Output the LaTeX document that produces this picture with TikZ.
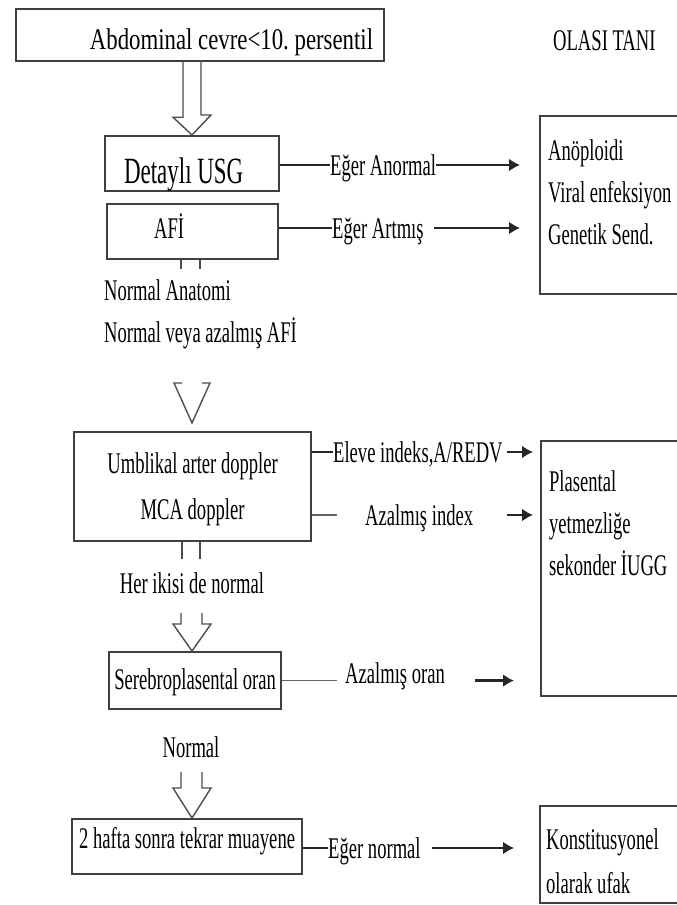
\documentclass[tikz,border=0pt]{standalone}
\usepackage{fontspec}
\usepackage{tikz}
\usetikzlibrary{arrows.meta,calc}

\newfontfamily\tnorm[FakeStretch=0.62]{Liberation Serif}
\newfontfamily\twide[FakeStretch=0.76]{Liberation Serif}

\begin{document}
\begin{tikzpicture}[
      x=1pt, y=-1pt,
      box/.style={draw=black!75, line width=2.2pt, inner ysep=0pt, anchor=north west,
        font=\tnorm\fontsize{30}{42}\selectfont,
        execute at begin node={\spaceskip=\fontdimen2\font\xspaceskip=\fontdimen2\font\relax}},
      lbl/.style={inner sep=0pt, text height=20pt, text depth=0pt, anchor=west,
        font=\tnorm\fontsize{30}{42}\selectfont,
        execute at begin node={\spaceskip=\fontdimen2\font\xspaceskip=\fontdimen2\font\relax}},
      conn/.style={draw=black!85, line width=2.6pt},
      thinconn/.style={draw=black!60, line width=1.4pt},
      arr/.style={conn, -{Latex[length=11pt,width=13pt]}},
      hollow/.style={draw=black!70, line width=1.4pt},
  ]
      \useasboundingbox (0,0) rectangle (677,905);

      % --- SOL SUTUN ---
      \node[box, font=\twide\fontsize{30}{42}\selectfont, inner xsep=11pt, text width=346pt,
        text height=40pt, text depth=12pt, align=right] (abd) at (15,8) {Abdominal cevre<10. persentil};
      \node[box, font=\tnorm\fontsize{37}{42}\selectfont, inner xsep=19pt, text width=136pt,
        text height=47pt, text depth=8pt, align=left] (usg) at (104,135) {Detaylı USG};
      \node[box, inner xsep=47pt, text width=77pt, text height=34pt, text depth=21pt,
        align=left] (afi) at (106,203) {AFİ};
      \node[lbl, anchor=north west, text width=220pt, align=left] (normanat) at (104,280)
        {Normal Anatomi\\Normal veya azalmış AFİ};
      \node[box, inner xsep=0pt, text width=237pt, text height=41pt, text depth=68pt,
        align=center] (umb) at (73,431) {Umblikal arter doppler\\[4pt]MCA doppler};
      \node[lbl, anchor=center] (herikisi) at (192,583) {Her ikisi de normal};
      \node[box, inner xsep=0pt, text width=172pt, text height=37pt, text depth=20pt,
        align=center] (spo) at (108,651) {Serebroplasental oran};
      \node[lbl, anchor=center] (normal) at (191,747) {Normal};
      \node[box, inner xsep=-1pt, text width=232pt, text height=29pt, text depth=26pt,
        align=center] (haf) at (71,818) {2 hafta sonra tekrar muayene};

      % --- OLASI TANI ---
      \node[lbl] (olasi) at (553,40) {OLASI TANI};
      \node[box, inner xsep=8pt, text width=200pt, text height=44pt, text depth=134pt,
        align=left] (anop) at (539,115) {Anöploidi\\Viral enfeksiyon\\Genetik Send.};
      \node[box, inner xsep=8pt, text width=200pt, text height=50pt, text depth=205pt,
        align=left] (plas) at (540,440) {Plasental\\yetmezliğe\\sekonder İUGG};
      \node[box, inner xsep=6pt, text width=200pt, text height=43pt, text depth=54pt,
        align=left] (kons) at (539,805) {Konstitusyonel\\[2pt]olarak ufak};

      % --- ETIKETLER ---
      \node[lbl] (anorm) at (330,165) {Eğer Anormal};
      \node[lbl] (artmis) at (332,228) {Eğer Artmış};
      \node[lbl] (eleve) at (333,452) {Eleve indeks,A/REDV};
      \node[lbl] (aindex) at (365,515) {Azalmış index};
      \node[lbl] (aoran) at (345,673) {Azalmış oran};
      \node[lbl] (enorm) at (328,848) {Eğer normal};

      % Bos oklar
      \coordinate (ax) at (192,0);
      \draw[hollow] ($(abd.south -| ax)+(-9,0)$) -- ++(0,55) -- ++(-10,0) -- (usg.north -| ax)
        -- ++(19,-20) -- ++(-10,0) -- ++(0,-55);
      \draw[hollow] ($(afi.south -| ax)+(-11,0)$) -- ++(0,9) ($(afi.south -| ax)+(8,0)$) -- ++(0,9);
      \draw[hollow] ($(umb.north -| ax)+(-10,-48)$) -- ++(-8,0) -- ($(umb.north -| ax)+(0,-8)$)
        -- ++(18,-40) -- ++(-8,0);
      \draw[hollow] ($(umb.south -| ax)+(-10,0)$) -- ++(0,17) ($(umb.south -| ax)+(8,0)$) -- ++(0,17);
      \draw[hollow] ($(spo.north -| ax)+(-11,-38)$) -- ++(0,11) -- ++(-8,0) -- (spo.north -| ax)
        -- ++(19,-27) -- ++(-9,0) -- ++(0,-11);
      \draw[hollow] ($(haf.north -| ax)+(-11,-46)$) -- ++(0,16) -- ++(-8,0) -- (haf.north -| ax)
        -- ++(19,-30) -- ++(-9,0) -- ++(0,-16);

      % Yatay baglantilar
      \draw[conn] (usg.east |- anorm.west) -- (anorm.west);
      \draw[arr, shorten >=19pt] (anorm.east) -- (anop.west |- anorm.east);
      \draw[conn] (afi.east |- artmis.west) -- (artmis.west);
      \draw[arr, shorten <=10pt, shorten >=19pt] (artmis.east) -- (anop.west |- artmis.east);
      \draw[conn] (umb.east |- eleve.west) -- (eleve.west);
      \draw[arr, shorten <=4pt, shorten >=7pt] (eleve.east) -- (plas.west |- eleve.east);
      \draw[thinconn, shorten >=28pt] (umb.east |- aindex.west) -- (aindex.west);
      \draw[arr, shorten <=34pt, shorten >=7pt] (aindex.east) -- (plas.west |- aindex.east);
      \draw[thinconn, shorten >=8pt] (spo.east) -- (spo.east -| aoran.west);
      \draw[arr, shorten <=30pt, shorten >=26pt] (aoran.east |- spo.east) -- (plas.west |- spo.east);
      \draw[conn] (haf.east |- enorm.west) -- (enorm.west);
      \draw[arr, shorten <=11pt, shorten >=25pt] (enorm.east) -- (kons.west |- enorm.east);

  \end{tikzpicture}
\end{document}
